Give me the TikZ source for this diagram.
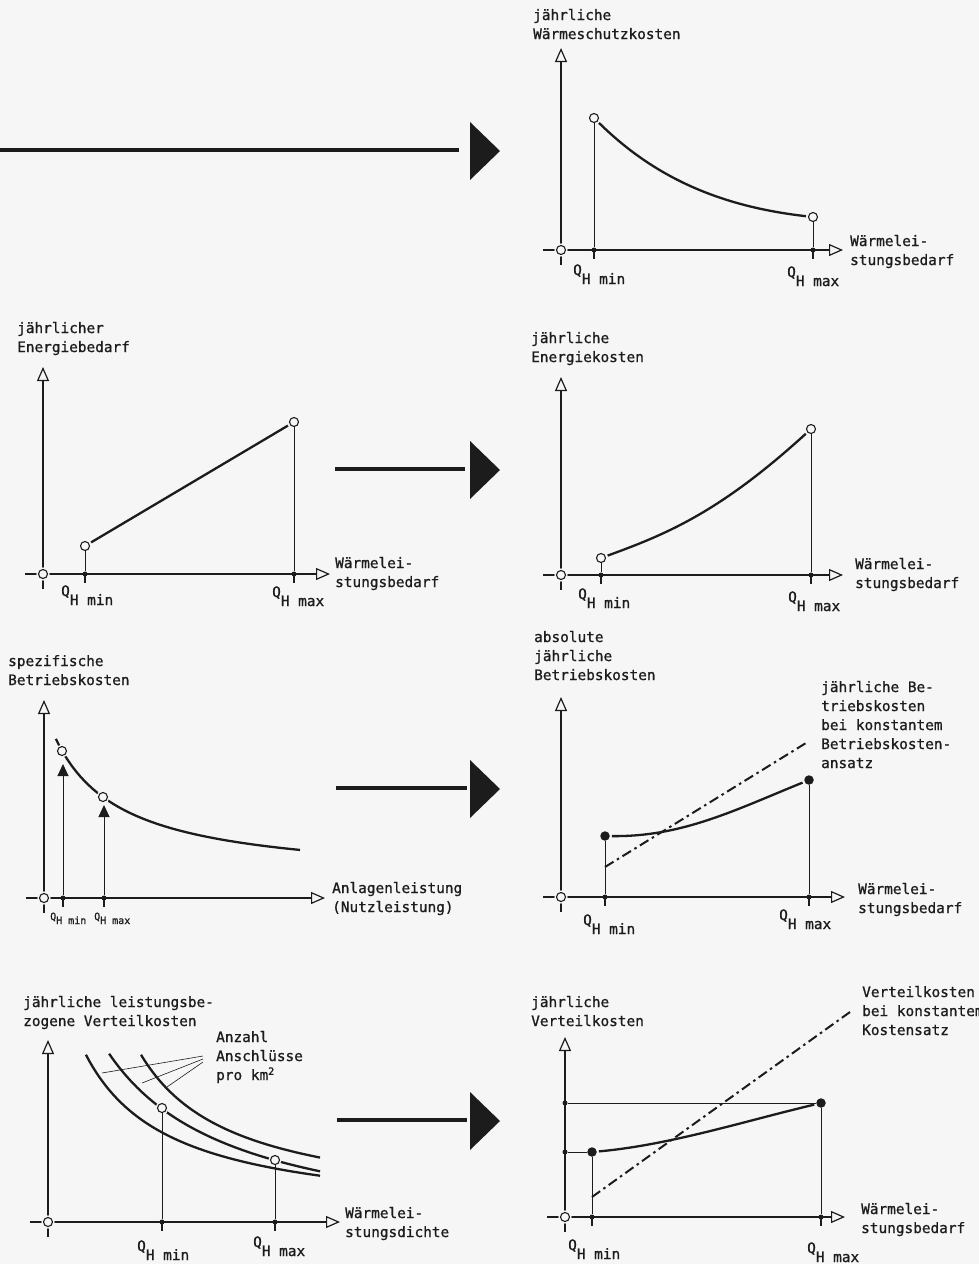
\documentclass[tikz,border=0pt]{standalone}
\usepackage{fontspec}
\setmainfont{DejaVu Sans Mono}[FakeBold=0.9]
\usepackage{xcolor}
\usetikzlibrary{arrows.meta}
\definecolor{paper}{HTML}{F6F6F6}
\definecolor{ink}{HTML}{1C1C1C}
\newcommand{\QH}[2][9pt]{Q\raisebox{-#1}{H #2}}

\begin{document}
\begin{tikzpicture}[
    x=1pt, y=-1pt,
    every node/.style={inner sep=0pt, text=ink},
    lbl/.style={font=\fontsize{14.4}{19}\selectfont, align=left, anchor=base west},
    qlbl/.style={font=\fontsize{14.4}{19}\selectfont, anchor=base west},
    smallq/.style={font=\fontsize{10}{12}\selectfont, anchor=base west},
    axisline/.style={draw=ink, line width=1.2pt, -{Triangle[open, length=14pt, width=12pt]}},
    tickmark/.style={draw=ink, line width=1.2pt},
    guideline/.style={draw=ink, line width=1pt},
    leader/.style={draw=ink, line width=0.6pt},
    curveline/.style={draw=ink, line width=2.3pt, shorten <=2pt, shorten >=2pt},
    dashdotline/.style={draw=ink, line width=2pt, dash pattern=on 10pt off 4pt on 2.5pt off 4pt},
    flowline/.style={draw=ink, line width=3.2pt},
    opendot/.style={circle, draw=ink, fill=paper, line width=1.1pt, minimum size=9pt, preaction={draw=paper, line width=4pt}},
    fulldot/.style={circle, fill=ink, minimum size=5pt},
    bigdot/.style={circle, fill=ink, minimum size=9.5pt, preaction={draw=paper, line width=4pt}},
  ]
\useasboundingbox (0,0) rectangle (979,1264);
\fill[paper] (0,0) rectangle (979,1264);

% arrows between the diagrams
\foreach \i/\xa/\xb/\ya in {1/0/459/150, 2/335/465/469, 3/336/467/788, 4/337/467/1120}{
  \coordinate (fa\i) at (\xa,\ya);
  \coordinate (fb\i) at (\xb,\ya);
  \draw[flowline] (fa\i) -- (fb\i);
  \fill[ink] (470,\ya-28) -- (500,\ya+1) -- (470,\ya+30) -- cycle;
}

% axes
\foreach \p/\ox/\oy/\yt/\xr in {1/561/250/48/843, 2/43/574/367/330, 3/561/575/377/843, 4/44/898/700/325, 5/561/897/697/845, 6/48/1222/1040/340, 7/565/1217/1037/845}{
  \coordinate (o\p) at (\ox,\oy);
  \coordinate (ya\p) at (\ox,\yt);
  \coordinate (xa\p) at (\xr,\oy);
  \draw[axisline] (o\p) -- (ya\p);
  \draw[axisline] (o\p) -- (xa\p);
  \draw[tickmark] (\ox-18,\oy) -- (\ox-6,\oy);
  \draw[tickmark] (\ox,\oy+6) -- (\ox,\oy+15);
  \node[opendot] (oc\p) at (o\p) {};
}

% Waermeschutzkosten
\node[lbl] (t1) at (533,39) {jährliche\\Wärmeschutzkosten};
\node[lbl] (w1) at (850,265) {Wärmelei-\\stungsbedarf};
\node[qlbl] (qmin1) at (573,275) {\QH{min}};
\node[qlbl] (qmax1) at (787,277) {\QH{max}};
\node[fulldot] (da1) at (594,250) {};
\node[fulldot] (db1) at (813,250) {};
\node[opendot] (pa1) at (594,118) {};
\node[opendot] (pb1) at (813,217) {};
\draw[guideline] (da1) -- (pa1);
\draw[guideline] (db1) -- (pb1);
\draw[curveline] (pa1) .. controls (652,175) and (716,206) .. (pb1);

% Energiebedarf
\node[lbl] (t2) at (17,352) {jährlicher\\Energiebedarf};
\node[lbl] (w2) at (335,587) {Wärmelei-\\stungsbedarf};
\node[qlbl] (qmin2) at (61,596) {\QH{min}};
\node[qlbl] (qmax2) at (272,597) {\QH{max}};
\node[fulldot] (da2) at (85,574) {};
\node[fulldot] (db2) at (294,574) {};
\node[opendot] (pa2) at (85,546) {};
\node[opendot] (pb2) at (294,422) {};
\draw[guideline] (da2) -- (pa2);
\draw[guideline] (db2) -- (pb2);
\draw[curveline] (pa2) -- (pb2);

% Energiekosten
\node[lbl] (t3) at (531,362) {jährliche\\Energiekosten};
\node[lbl] (w3) at (855,588) {Wärmelei-\\stungsbedarf};
\node[qlbl] (qmin3) at (578,599) {\QH{min}};
\node[qlbl] (qmax3) at (788,602) {\QH{max}};
\node[fulldot] (da3) at (601,575) {};
\node[fulldot] (db3) at (811,575) {};
\node[opendot] (pa3) at (601,558) {};
\node[opendot] (pb3) at (811,429) {};
\draw[guideline] (da3) -- (pa3);
\draw[guideline] (db3) -- (pb3);
\draw[curveline] (pa3) .. controls (667,534) and (720,512) .. (pb3);

% spezifische Betriebskosten
\node[lbl] (t4) at (8,685) {spezifische\\Betriebskosten};
\node[lbl] (w4) at (332,912) {Anlagenleistung\\(Nutzleistung)};
\node[smallq] (qmin4) at (50,920) {\QH[4pt]{min}};
\node[smallq] (qmax4) at (94,920) {\QH[4pt]{max}};
\draw[curveline] plot[domain=55:302, samples=60] (\x,{880.8-9632/(\x+12)});
\node[fulldot] (da4) at (63,898) {};
\node[fulldot] (db4) at (104,898) {};
\node[opendot] (pa4) at (62,751) {};
\node[opendot] (pb4) at (103,797) {};
\coordinate (ta4) at (63,764);
\coordinate (tb4) at (104,805);
\draw[guideline, -{Triangle[length=12pt, width=11pt]}] (da4) -- (ta4);
\draw[guideline, -{Triangle[length=12pt, width=11pt]}] (db4) -- (tb4);

% absolute Betriebskosten
\node[lbl] (t5) at (534,680) {absolute\\jährliche\\Betriebskosten};
\node[lbl] (n5) at (821,768) {jährliche Be-\\triebskosten\\bei konstantem\\Betriebskosten-\\ansatz};
\node[lbl] (w5) at (858,913) {Wärmelei-\\stungsbedarf};
\node[qlbl] (qmin5) at (583,925) {\QH{min}};
\node[qlbl] (qmax5) at (779,920) {\QH{max}};
\coordinate (ka5) at (605,867);
\coordinate (kb5) at (806,743);
\draw[dashdotline] (ka5) -- (kb5);
\node[fulldot] (da5) at (605,897) {};
\node[fulldot] (db5) at (809,897) {};
\node[bigdot] (pa5) at (605,836) {};
\node[bigdot] (pb5) at (809,780) {};
\draw[guideline] (da5) -- (pa5);
\draw[guideline] (db5) -- (pb5);
\draw[curveline] (pa5) .. controls (682,837) and (735,810) .. (pb5);

% leistungsbezogene Verteilkosten
\node[lbl] (t6) at (23,1026) {jährliche leistungsbe-\\zogene Verteilkosten};
\node[lbl] (n6) at (216,1080) {Anzahl\\Anschlüsse\\pro km\textsuperscript{2}};
\node[lbl] (w6) at (345,1237) {Wärmelei-\\stungsdichte};
\node[qlbl] (qmin6) at (137,1251) {\QH{min}};
\node[qlbl] (qmax6) at (253,1247) {\QH{max}};
\draw[curveline] plot[domain=85:322, samples=60] (\x,{1220.1-14205/\x});
\draw[curveline] plot[domain=108:322, samples=60] (\x,{1243.3-2*(12240.5/(\x+20))});
\draw[curveline] plot[domain=140:322, samples=60] (\x,{1211.5-14736/(\x-47)});
\foreach \i/\ys/\xe/\ye in {1/1056/102/1073, 2/1059/142/1083, 3/1062/167/1087}{
  \coordinate (ls\i) at (203,\ys);
  \coordinate (le\i) at (\xe,\ye);
  \draw[leader] (ls\i) -- (le\i);
}
\node[fulldot] (da6) at (162,1222) {};
\node[fulldot] (db6) at (275,1222) {};
\node[opendot] (pa6) at (162,1108) {};
\node[opendot] (pb6) at (275,1160) {};
\draw[guideline] (da6) -- (pa6);
\draw[guideline] (db6) -- (pb6);

% jaehrliche Verteilkosten
\node[lbl] (t7) at (531,1026) {jährliche\\Verteilkosten};
\node[lbl] (n7) at (862,1035) {Verteilkosten\\bei konstantem\\Kostensatz};
\node[lbl] (w7) at (861,1233) {Wärmelei-\\stungsbedarf};
\node[qlbl] (qmin7) at (568,1250) {\QH{min}};
\node[qlbl] (qmax7) at (807,1253) {\QH{max}};
\coordinate (ka7) at (592,1197);
\coordinate (kb7) at (850,1012);
\draw[dashdotline] (ka7) -- (kb7);
\node[fulldot] (da7) at (592,1217) {};
\node[fulldot] (db7) at (821,1217) {};
\node[fulldot] (dy7a) at (565,1103) {};
\node[fulldot] (dy7b) at (565,1152) {};
\node[bigdot] (pa7) at (592,1152) {};
\node[bigdot] (pb7) at (821,1103) {};
\draw[guideline] (da7) -- (pa7);
\draw[guideline] (db7) -- (pb7);
\draw[guideline] (dy7a) -- (pb7);
\draw[guideline] (dy7b) -- (pa7);
\draw[curveline] (pa7) .. controls (670,1145) and (745,1121) .. (pb7);

\foreach \d in {da1,db1,da2,db2,da3,db3,da4,db4,da5,db5,da6,db6,da7,db7}
  \draw[tickmark] (\d.center) -- ++(0,9);
\end{tikzpicture}
\end{document}
